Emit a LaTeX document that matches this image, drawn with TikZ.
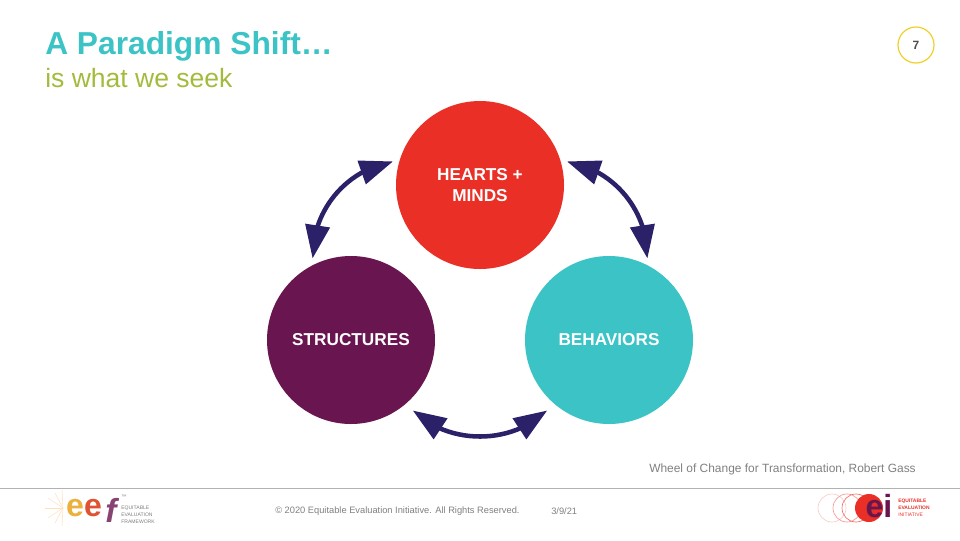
\documentclass[tikz,border=0pt]{standalone}
\usepackage{fontspec}
\setmainfont{Liberation Sans}
\usetikzlibrary{arrows.meta,bending}
\definecolor{tealc}{HTML}{3BC3C5}
\definecolor{leaf}{HTML}{A3BB3C}
\definecolor{redc}{HTML}{E92F26}
\definecolor{plum}{HTML}{69154F}
\definecolor{navy}{HTML}{2A2168}
\definecolor{greyc}{HTML}{7F7F7F}
\tikzset{
  wheel/.style={circle,inner sep=0pt,outer sep=0pt,minimum size=126pt,align=center,text=white,font=\fontsize{12.9pt}{15.8pt}\selectfont\bfseries},
  twoway/.style={draw=navy,line width=3.4pt,{Triangle[length=25pt,width=18pt,fill=navy]}-{Triangle[length=25pt,width=18pt,fill=navy]},shorten <=5pt,shorten >=5pt},
  small/.style={inner sep=0pt,anchor=west,text=greyc},
  tiny/.style={inner sep=0pt,anchor=west,align=left,font=\fontsize{3.8pt}{5.4pt}\selectfont}
}
\begin{document}
\begin{tikzpicture}
  [x=0.75pt,y=-0.75pt]
  \useasboundingbox (0,0) rectangle (960,540);
  \node[inner sep=0pt,anchor=west,text=tealc,font=\fontsize{23.8pt}{28pt}\selectfont\bfseries] (title) at (45,46) {A Paradigm Shift…};
  \node[inner sep=0pt,anchor=west,text=leaf,font=\fontsize{19.9pt}{24pt}\selectfont] (subtitle) at (45,78) {is what we seek};
  \node[circle,draw={rgb,255:red,240;green,208;blue,40},line width=0.9pt,minimum size=27pt,inner sep=0pt,text=greyc!60!black,font=\fontsize{9pt}{11pt}\selectfont\bfseries] (page) at (916,45) {7};

  \node[wheel,fill=redc] (hearts) at (480,185) {HEARTS +\\MINDS};
  \node[wheel,fill=plum] (structures) at (351,340) {STRUCTURES};
  \node[wheel,fill=tealc] (behaviors) at (609,340) {BEHAVIORS};

  \draw[twoway] (hearts.163) to[bend right=44] (structures.117);
  \draw[twoway] (hearts.17) to[bend left=44] (behaviors.63);
  \draw[twoway,shorten <=7.3pt,shorten >=7.3pt] (structures.-49) to[bend right=50] (behaviors.-131);

  \node[small,font=\fontsize{8.96pt}{11pt}\selectfont] (source) at (649,469) {Wheel of Change for Transformation, Robert Gass};
  \draw[greyc!60,line width=0.5pt] (0,488) -- (960,488);
  \node[small,font=\fontsize{6.97pt}{9pt}\selectfont] (rights) at (275,511) {© 2020 Equitable Evaluation Initiative. All Rights Reserved.};
  \node[small,font=\fontsize{6.97pt}{9pt}\selectfont] (date) at (551,511) {3/9/21};

  \draw[orange!25,line width=0.4pt] (63,508) -- (45,508);
  \draw[orange!25,line width=0.4pt] (63,508) -- (48,498);
  \draw[orange!25,line width=0.4pt] (63,508) -- (48,518);
  \draw[orange!25,line width=0.4pt] (63,508) -- (55,493);
  \draw[orange!25,line width=0.4pt] (63,508) -- (55,523);
  \draw[orange!25,line width=0.4pt] (63,508) -- (62,490);
  \draw[orange!25,line width=0.4pt] (63,508) -- (62,526);
  \node[inner sep=0pt,text={rgb,255:red,236;green,176;blue,60},font=\fontsize{24pt}{24pt}\selectfont\bfseries] (eone) at (75,508) {e};
  \node[inner sep=0pt,text={rgb,255:red,222;green,84;blue,50},font=\fontsize{24pt}{24pt}\selectfont\bfseries] (etwo) at (93,508) {e};
  \node[inner sep=0pt,text=plum!80,font=\fontsize{25pt}{25pt}\selectfont\bfseries\itshape] (eff) at (111,510) {f};
  \node[tiny,text=greyc] (eefmark) at (121,497) {™};
  \node[tiny,text=greyc] (eeflabel) at (121,515) {EQUITABLE\\EVALUATION\\FRAMEWORK};

  \draw[redc!25,line width=0.5pt] (832,508) circle (14);
  \draw[redc!50,line width=0.5pt] (847,508) circle (14);
  \draw[redc!70,line width=0.5pt] (856,508) circle (14);
  \node[circle,fill=redc,minimum size=21pt,inner sep=0pt] (eeidisc) at (869,508) {};
  \node[inner sep=0pt,text=plum,font=\fontsize{24pt}{24pt}\selectfont\bfseries] (eei) at (879,506) {ei};
  \node[tiny,text=redc,font=\fontsize{3.7pt}{5.2pt}\selectfont\bfseries] (eeilabel) at (898,508) {EQUITABLE\\EVALUATION\\\mdseries INITIATIVE};
\end{tikzpicture}
\end{document}
